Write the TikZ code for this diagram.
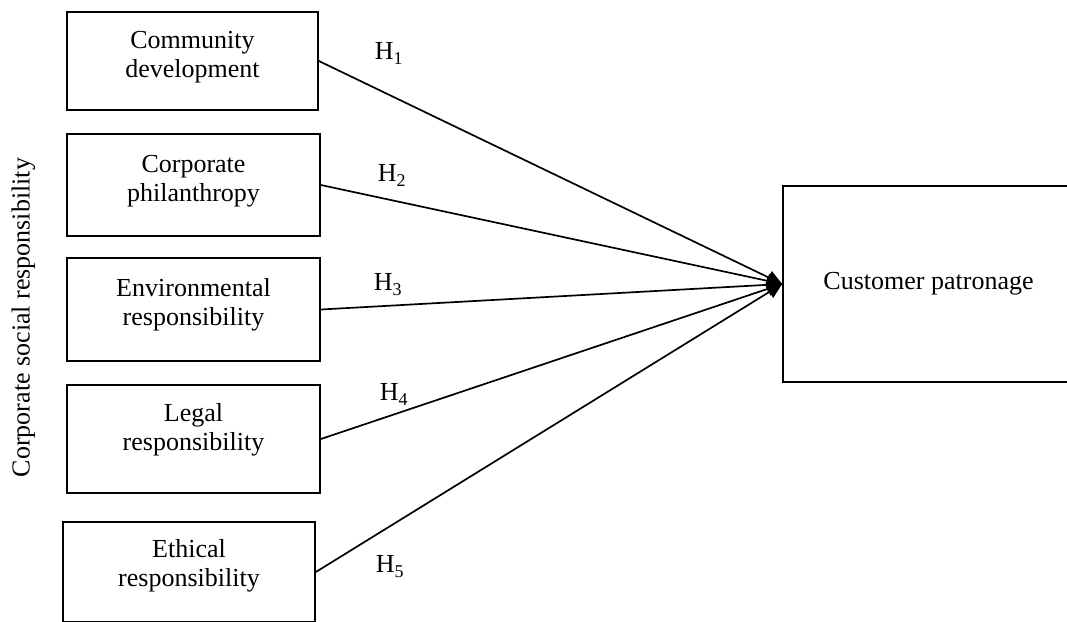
\documentclass[tikz,border=0pt]{standalone}
\usepackage{fontspec}
\setmainfont{Liberation Serif}
\usetikzlibrary{arrows.meta}
\newcommand{\hyp}[1]{H\raisebox{-0.22em}{\fontsize{18}{18}\selectfont #1}}
\begin{document}
\begin{tikzpicture}[x=1pt,y=-1pt,
  line width=1.7pt,
  font=\fontsize{26}{29}\selectfont,
  cbox/.style={draw, inner sep=0pt, minimum width=#1},
  btext/.style={align=center, inner sep=0pt},
  hlab/.style={anchor=base west, inner sep=0pt},
  link/.style={-{Triangle[length=15pt,width=14pt]}}]
\clip (0,0) rectangle (1067,621);
% predictor boxes
\node[cbox=251pt, minimum height=98pt]  (b1) at (192.5,61) {};
\node[cbox=253pt, minimum height=102pt] (b2) at (193.5,185) {};
\node[cbox=253pt, minimum height=103pt] (b3) at (193.5,309.5) {};
\node[cbox=253pt, minimum height=108pt] (b4) at (193.5,439) {};
\node[cbox=252pt, minimum height=100pt] (b5) at (189,572) {};
% texts
\node[btext] (t1) at (192.5,57.5) {Community\\development};
\node[btext] (t2) at (193.5,181) {Corporate\\philanthropy};
\node[btext] (t3) at (193.5,304.5) {Environmental\\responsibility};
\node[btext] (t4) at (193.5,430) {Legal\\responsibility};
\node[btext] (t5) at (189,566) {Ethical\\responsibility};
% outcome box
\node[cbox=291pt, minimum height=196pt] (cp) at (928.5,284) {Customer patronage};
% side label
\node[rotate=90, inner sep=0pt] (side) at (23.5,317.5) {Corporate social responsibility};
% connectors
\draw[link] (b1.east) -- (cp.west);
\draw[link] (b2.east) -- (cp.west);
\draw[link] (b3.east) -- (cp.west);
\draw[link] (b4.east) -- (cp.west);
\draw[link] (b5.east) -- (cp.west);
% hypothesis labels
\node[hlab] (h1) at (374,59)  {\hyp{1}};
\node[hlab] (h2) at (377,181) {\hyp{2}};
\node[hlab] (h3) at (373,290) {\hyp{3}};
\node[hlab] (h4) at (379,400) {\hyp{4}};
\node[hlab] (h5) at (375,572) {\hyp{5}};
\end{tikzpicture}
\end{document}
